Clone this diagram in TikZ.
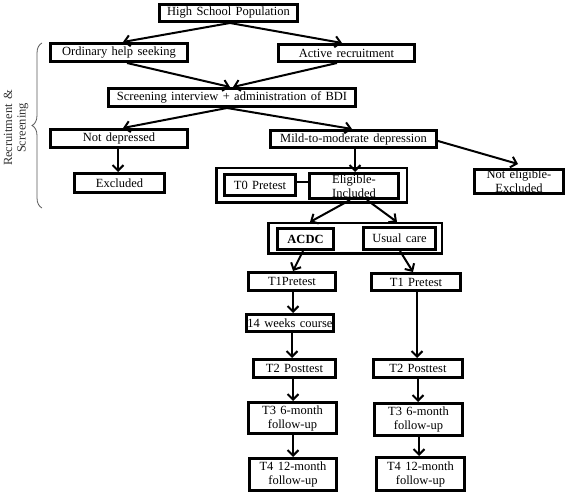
\documentclass[tikz,border=0pt]{standalone}
\usepackage{fontspec}
\setmainfont{Liberation Serif}[WordSpace=1.4]
\usetikzlibrary{arrows.meta,decorations.pathreplacing}
\begin{document}
\begin{tikzpicture}[x=1pt,y=-1pt,
  box/.style={draw, line width=2.8pt, inner sep=0pt, align=center,
    font=\fontsize{12.5}{14}\selectfont},
  grp/.style={draw, line width=2.5pt, inner sep=0pt},
  arr/.style={line width=2pt, -{Straight Barb[length=5.5pt,width=11pt]}},
  plain/.style={line width=2pt},
]
\useasboundingbox (0,0) rectangle (567,494);

% groups
\node[grp, minimum width=190.5pt, minimum height=34.5pt] (g1) at (311.5,185.5) {};
\node[grp, minimum width=173.5pt, minimum height=30.5pt] (g2) at (355,238.5) {};

% boxes
\node[box, minimum width=138.2pt, minimum height=17.2pt] (hsp) at (228.5,13) {High School Population};
\node[box, minimum width=137.2pt, minimum height=18.2pt] (ord) at (119,52.5) {Ordinary help seeking};
\node[box, minimum width=136.2pt, minimum height=17.2pt] (act) at (346.5,53) {Active recruitment};
\node[box, minimum width=247.2pt, minimum height=18.2pt] (scr) at (232,97.5) {Screening interview + administration of BDI};
\node[box, minimum width=137.2pt, minimum height=18.2pt] (nd) at (119,138.5) {Not depressed};
\node[box, minimum width=166.2pt, minimum height=17.2pt] (mild) at (353.5,139) {Mild-to-moderate depression};
\node[box, minimum width=90.2pt, minimum height=19.2pt] (exc) at (119.5,183) {\raisebox{-3pt}{Excluded}};
\node[box, minimum width=71.2pt, minimum height=21.2pt] (t0) at (260,185) {T0 Pretest};
\node[box, minimum width=89.2pt, minimum height=25.2pt] (elig) at (354,186) {Eligible-\\Included};
\node[box, minimum width=89.2pt, minimum height=24.2pt] (nel) at (519,181.5) {Not eligible-\\Excluded};
\node[box, minimum width=56.2pt, minimum height=21.2pt, font=\fontsize{12.5}{14}\selectfont\bfseries] (acdc) at (305.5,239) {ACDC};
\node[box, minimum width=72.2pt, minimum height=22.2pt] (usual) at (399.5,238.5) {Usual care};
\node[box, minimum width=87.2pt, minimum height=18.2pt] (t1a) at (292,281.5) {T1Pretest};
\node[box, minimum width=89.2pt, minimum height=17.2pt] (t1b) at (416,282) {T1 Pretest};
\node[box, minimum width=87.2pt, minimum height=17.2pt] (w14) at (290,323) {14 weeks course};
\node[box, minimum width=82.2pt, minimum height=18.2pt] (t2a) at (294.5,368.5) {T2 Posttest};
\node[box, minimum width=88.2pt, minimum height=31.2pt] (t3a) at (292.5,418) {T3 6-month\\follow-up};
\node[box, minimum width=87.2pt, minimum height=32.2pt] (t4a) at (293,474.5) {T4 12-month\\follow-up};
\node[box, minimum width=89.2pt, minimum height=18.2pt] (t2b) at (418,368.5) {T2 Posttest};
\node[box, minimum width=88.2pt, minimum height=32.2pt] (t3b) at (418.5,419.5) {T3 6-month\\follow-up};
\node[box, minimum width=88.2pt, minimum height=33.2pt] (t4b) at (420.5,474) {T4 12-month\\follow-up};

% label and brace
\node[rotate=90, align=center, text=black!80, inner sep=0pt,
  font=\fontsize{12.5}{13.5}\selectfont] (lbl) at (16,128) {Recruitment \&\\Screening};
\draw[decorate, decoration={brace, amplitude=10pt}, line width=0.8pt, black!65]
  (42,208) -- (42,43);

% connectors
\draw[arr] ([xshift=1.5pt]hsp.south) -- ([xshift=4pt]ord.north);
\draw[arr] ([xshift=1.5pt]hsp.south) -- ([xshift=-4.5pt]act.north);
\draw[arr] ([xshift=8pt]ord.south) -- ([xshift=-2pt]scr.north);
\draw[arr] ([xshift=-9.5pt]act.south) -- ([xshift=1pt]scr.north);
\draw[arr] ([xshift=-5pt]scr.south) -- ([xshift=4pt]nd.north);
\draw[arr] ([xshift=-5pt]scr.south) -- ([xshift=-1.5pt]mild.north);
\draw[arr] ([xshift=-1pt]nd.south) -- ([xshift=-1pt]nd.south |- exc.north);
\draw[arr] ([xshift=1.5pt]mild.south) -- ([xshift=1.5pt]mild.south |- elig.north);
\draw[arr] ([yshift=-2pt]mild.east) -- ([xshift=-1pt,yshift=4pt]nel.north);
\draw[plain] ([yshift=3pt]t0.east) -- ([yshift=3pt]t0.east -| elig.west);
\draw[arr] ([xshift=-4pt]elig.south) -- ([xshift=-45pt]g2.north);
\draw[arr] ([xshift=13pt]elig.south) -- ([xshift=42pt]g2.north);
\draw[arr] ([xshift=-2.5pt]acdc.south) -- ([xshift=1pt]t1a.north);
\draw[arr] ([xshift=0.5pt]usual.south) -- ([xshift=-3pt]t1b.north);
\draw[arr] ([xshift=1pt]t1a.south) -- ([xshift=1pt]t1a.south |- w14.north);
\draw[arr] ([xshift=2pt]w14.south) -- ([xshift=2pt]w14.south |- t2a.north);
\draw[arr] ([xshift=0.5pt]t3a.north |- t2a.south) -- ([xshift=0.5pt]t3a.north);
\draw[arr] ([xshift=0.5pt]t3a.south) -- ([xshift=0.5pt]t3a.south |- t4a.north);
\draw[arr] ([xshift=1pt]t1b.south) -- ([xshift=1pt]t1b.south |- t2b.north);
\draw[arr] (t2b.south) -- (t2b.south |- t3b.north);
\draw[arr] ([xshift=0.5pt]t3b.south) -- ([xshift=0.5pt]t3b.south |- t4b.north);
\end{tikzpicture}
\end{document}
